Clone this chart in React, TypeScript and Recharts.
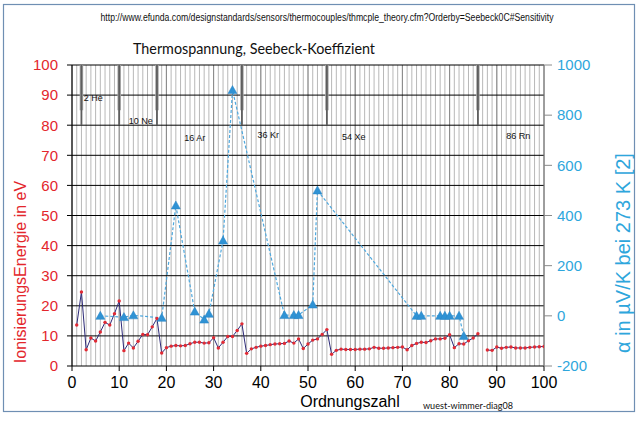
import React from 'react';
import { ComposedChart, Line, Scatter, XAxis, YAxis, CartesianGrid } from 'recharts';

// Atomic numbers (categories)
const atomicNumbers: number[] = Array.from({ length: 100 }, (_, i) => i + 1);

// First ionization energy in eV (null = no value)
const ionization: (number | null)[] = [
  13.6, 24.6, 5.4, 9.3, 8.3, 11.3, 14.5, 13.6, 17.4, 21.6,
  5.1, 7.6, 6.0, 8.2, 10.5, 10.4, 13.0, 15.8, 4.3, 6.1,
  6.6, 6.8, 6.7, 6.8, 7.4, 7.9, 7.9, 7.6, 7.7, 9.4,
  6.0, 7.9, 9.8, 9.8, 11.8, 14.0, 4.2, 5.7, 6.2, 6.6,
  6.8, 7.1, 7.3, 7.4, 7.5, 8.3, 7.6, 9.0, 5.8, 7.3,
  8.6, 9.0, 10.5, 12.1, 3.9, 5.2, 5.6, 5.5, 5.5, 5.5,
  5.6, 5.6, 5.7, 6.2, 5.9, 5.9, 6.0, 6.1, 6.2, 6.3,
  5.4, 6.8, 7.5, 7.9, 7.8, 8.4, 9.0, 9.0, 9.2, 10.4,
  6.1, 7.4, 7.3, 8.4, 9.3, 10.7, null, 5.3, 5.2, 6.3,
  5.9, 6.2, 6.3, 6.0, 6.0, 6.0, 6.2, 6.3, 6.4, 6.5,
];

// Seebeck coefficient (µV/K at 273 K)
const seebeckZ: number[] = [6, 11, 13, 19, 22, 26, 28, 29, 32, 34, 45, 47, 48, 51, 52, 73, 74, 78, 79, 80, 82, 83];
const seebeckValues: number[] = [0, -5, 2, -8, 440, 17, -15, 8, 300, 900, 3, 3, 3, 45, 500, 0, 0, 0, 0, 0, 0, -80];

// Noble gases: spikes and labels
const nobleZ: number[] = [2, 10, 18, 36, 54, 86];
const spikeTop = 100;
const spikeBottom = 80;
const spikeMid = 85;
const nobleLabels: string[] = ['2 He', '10 Ne', '16 Ar', '36 Kr', '54 Xe', '86 Rn'];
const nobleLabelZ: number[] = [2.5, 12.0, 23.8, 39.3, 57.2, 92.0];
const nobleLabelLevel: number[] = [89, 81.4, 75.9, 76.8, 76.0, 76.4];

// Axis ticks
const xTicks: number[] = [0, 10, 20, 30, 40, 50, 60, 70, 80, 90, 100];
const leftTicks: number[] = [0, 10, 20, 30, 40, 50, 60, 70, 80, 90, 100];
const rightTicks: number[] = [-200, 0, 200, 400, 600, 800, 1000];
const minorGridX: number[] = Array.from({ length: 101 }, (_, i) => i);
const hGrid: number[] = [10, 20, 30, 40, 50, 60, 70, 80, 90, 100];

const data = atomicNumbers.map((z, i) => {
  const si = seebeckZ.indexOf(z);
  return {
    z,
    ie: ionization[i],
    seebeck: si >= 0 ? seebeckValues[si] : null,
  };
});

const spikeOuter = nobleZ.flatMap((z) => [
  { z, s: spikeTop },
  { z, s: spikeMid },
  { z, s: null },
]);
const spikeInner = nobleZ.flatMap((z) => [
  { z, s: spikeTop },
  { z, s: spikeBottom },
  { z, s: null },
]);

const labelData = nobleLabels.map((t, i) => ({ z: nobleLabelZ[i], y: nobleLabelLevel[i], text: t }));

const TriangleDot = (props: any) => {
  const { cx, cy, value, index } = props;
  if (value == null || cx == null || cy == null || isNaN(cy)) return <g key={`t${index}`} />;
  return (
    <polygon
      key={`t${index}`}
      points={`${cx},${cy - 4.5} ${cx + 4.5},${cy + 3.5} ${cx - 4.5},${cy + 3.5}`}
      fill="#2f92d4"
      stroke="#2b84c4"
      strokeWidth={0.5}
    />
  );
};

const LabelShape = (props: any) => {
  const { cx, cy, payload } = props;
  return (
    <text x={cx} y={cy} dominantBaseline="central" fontSize={9} fill="#111" fontFamily="Liberation Sans, Arial, sans-serif">
      {payload.text}
    </text>
  );
};

export default function App() {
  return (
    <div style={{ position: 'absolute', left: 0, top: 0, width: 642, height: 424, background: '#fff' }}>
      <ComposedChart
        width={642}
        height={424}
        data={data}
        margin={{ top: 65, right: 0, bottom: 28, left: 0 }}
        style={{ fontFamily: 'Liberation Sans, Arial, sans-serif' }}
      >
        <CartesianGrid yAxisId="left" horizontal={false} vertical verticalValues={minorGridX} stroke="#b8b8b8" />
        <CartesianGrid yAxisId="left" horizontal={false} vertical verticalValues={xTicks} stroke="#888" />
        <CartesianGrid yAxisId="left" vertical={false} horizontal horizontalValues={hGrid} stroke="#000" />
        <XAxis
          dataKey="z"
          type="number"
          domain={[0, 100]}
          ticks={xTicks}
          interval={0}
          height={30}
          tickSize={5}
          tickMargin={6}
          stroke="#000"
          tick={{ fill: '#000', fontSize: 16 }}
          allowDataOverflow
        />
        <YAxis
          yAxisId="left"
          domain={[0, 100]}
          ticks={leftTicks}
          interval={0}
          width={72}
          tickSize={5}
          tickMargin={9}
          stroke="#000"
          tick={{ fill: '#e3262c', fontSize: 15 }}
        />
        <YAxis
          yAxisId="right"
          orientation="right"
          domain={[-200, 1000]}
          ticks={rightTicks}
          interval={0}
          width={98}
          tickSize={8}
          tickMargin={5}
          stroke="#8a8a8a"
          tick={{ fill: '#2ea6dc', fontSize: 15 }}
        />
        <Line
          yAxisId="left"
          data={spikeOuter}
          dataKey="s"
          stroke="#a8a8a8"
          strokeWidth={3.5}
          dot={false}
          activeDot={false}
          connectNulls={false}
          isAnimationActive={false}
        />
        <Line
          yAxisId="left"
          data={spikeInner}
          dataKey="s"
          stroke="#5e5e5e"
          strokeWidth={1.8}
          dot={false}
          activeDot={false}
          connectNulls={false}
          isAnimationActive={false}
        />
        <Line
          yAxisId="left"
          dataKey="ie"
          stroke="#2d2a78"
          strokeWidth={1}
          dot={{ r: 1.7, fill: '#e02a34', stroke: 'none' }}
          connectNulls={false}
          isAnimationActive={false}
        />
        <Line
          yAxisId="right"
          dataKey="seebeck"
          stroke="#4ea8de"
          strokeWidth={1.2}
          strokeDasharray="3 2"
          connectNulls
          dot={TriangleDot}
          activeDot={false}
          isAnimationActive={false}
        />
        <Scatter yAxisId="left" data={labelData} dataKey="y" shape={<LabelShape />} isAnimationActive={false} />
      </ComposedChart>
      <svg width={642} height={424} style={{ position: 'absolute', left: 0, top: 0, pointerEvents: 'none' }}>
        <rect x={3.5} y={4.5} width={631} height={407} fill="none" stroke="#6f8fb3" strokeWidth={1.2} />
        <text x={327} y={17} textAnchor="middle" dominantBaseline="central" fontSize={10}
          fontFamily="Liberation Sans Narrow, Liberation Sans, Arial, sans-serif" fill="#111"
          textLength={453} lengthAdjust="spacingAndGlyphs">
          http://www.efunda.com/designstandards/sensors/thermocouples/thmcple_theory.cfm?Orderby=Seebeck0C#Sensitivity
        </text>
        <text x={254} y={47} textAnchor="middle" dominantBaseline="central" fontSize={16}
          fontFamily="Lato, Open Sans, sans-serif" fill="#111" textLength={242} lengthAdjust="spacingAndGlyphs">
          Thermospannung, Seebeck-Koeffizient
        </text>
        <text x={20} y={272} transform="rotate(-90 20 272)" textAnchor="middle" dominantBaseline="central"
          fontSize={16} fontFamily="Liberation Sans, Arial, sans-serif" fill="#e3262c">
          IonisierungsEnergie in eV
        </text>
        <text x={623} y={253} transform="rotate(-90 623 253)" textAnchor="middle" dominantBaseline="central"
          fontSize={20} fontFamily="Liberation Sans, Arial, sans-serif" fill="#2ea6dc">
          α in µV/K bei 273 K [2]
        </text>
        <text x={350} y={401} textAnchor="middle" dominantBaseline="central" fontSize={16}
          fontFamily="Liberation Sans, Arial, sans-serif" fill="#000">
          Ordnungszahl
        </text>
        <text x={468} y={405} textAnchor="middle" dominantBaseline="central" fontSize={10}
          fontFamily="Lato, Open Sans, sans-serif" fill="#111" textLength={90} lengthAdjust="spacingAndGlyphs">
          wuest-wimmer-diag08
        </text>
      </svg>
    </div>
  );
}
